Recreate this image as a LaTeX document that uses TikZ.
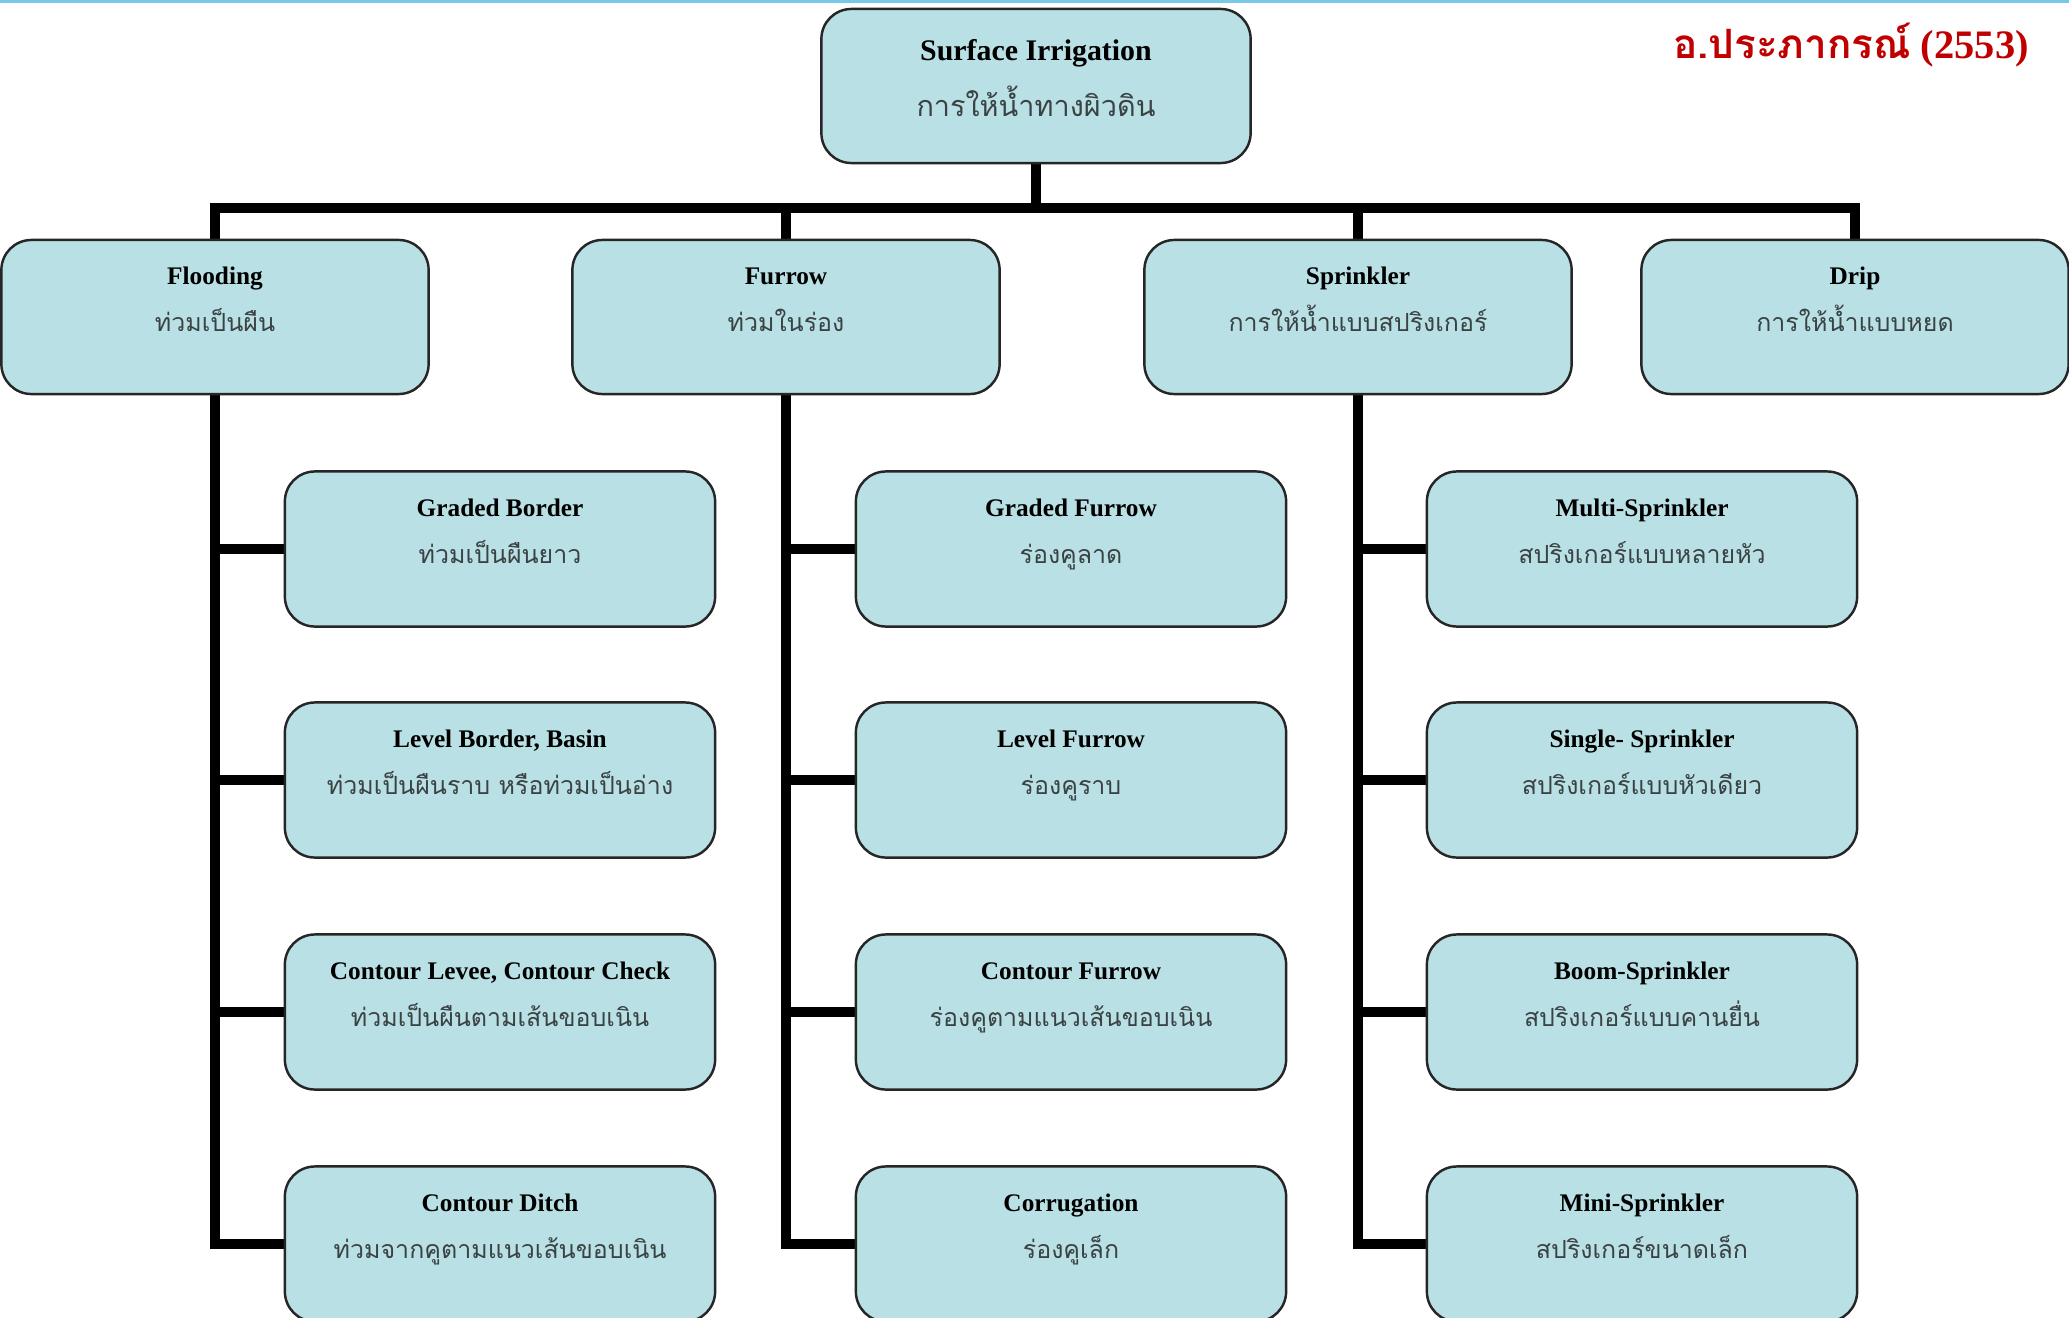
\documentclass[tikz,border=0pt]{standalone}
\usepackage{fontspec}
\setmainfont{Liberation Serif}
\newfontfamily\thaifont[Script=Thai]{Loma}
\pgfdeclarelayer{bg}
\pgfsetlayers{bg,main}
\definecolor{boxfill}{RGB}{185,224,228}
\definecolor{thaitext}{RGB}{58,66,68}
\definecolor{titlered}{RGB}{192,0,0}
\definecolor{topband}{RGB}{120,200,232}
\newcommand{\thaiword}[2]{{\thaifont\fontsize{#1}{#1}\selectfont\color{thaitext}#2}}
\tikzset{
    every node/.style={rounded corners=0.3cm, draw=black!85, line width=0.7pt, fill=boxfill, align=center, inner sep=0mm}
}
\tikzset{
    root/.style={minimum width=4.29cm, minimum height=1.54cm, font=\fontsize{8.5}{15.9}\selectfont},
    kind/.style={minimum width=4.27cm, minimum height=1.54cm, font=\fontsize{7.2}{13.4}\selectfont},
    sub/.style={minimum width=4.3cm, minimum height=1.55cm, font=\fontsize{7.2}{13.4}\selectfont},
    link/.style={line width=2.8pt, line join=miter}
}

\begin{document}
\begin{tikzpicture}[x=0.01cm, y=-0.01cm]
        \useasboundingbox (0,0) rectangle (2069,1318);
        \fill[topband] (0,0) rectangle (2069,3);
        \node (r) [root] at (1036,86) {\textbf{Surface Irrigation}\\\thaiword{8.2}{การให้น้ำทางผิวดิน}\rule[-4.5pt]{0pt}{0pt}};
        \node (f0) [kind] at (215,317) {\textbf{Flooding}\\\thaiword{7.1}{ท่วมเป็นผืน}\rule[-10pt]{0pt}{0pt}};
        \node (g0) [kind] at (786,317) {\textbf{Furrow}\\\thaiword{7.1}{ท่วมในร่อง}\rule[-10pt]{0pt}{0pt}};
        \node (s0) [kind] at (1358,317) {\textbf{Sprinkler}\\\thaiword{7.1}{การให้น้ำแบบสปริงเกอร์}\rule[-10pt]{0pt}{0pt}};
        \node (d0) [kind] at (1855,317) {\textbf{Drip}\\\thaiword{7.1}{การให้น้ำแบบหยด}\rule[-10pt]{0pt}{0pt}};
        \node (f1) [sub] at (500,549) {\textbf{Graded Border}\\\thaiword{7.1}{ท่วมเป็นผืนยาว}\rule[-10pt]{0pt}{0pt}};
        \node (f2) [sub] at (500,780) {\textbf{Level Border, Basin}\\\thaiword{7.1}{ท่วมเป็นผืนราบ หรือท่วมเป็นอ่าง}\rule[-10pt]{0pt}{0pt}};
        \node (f3) [sub] at (500,1012) {\textbf{Contour Levee, Contour Check}\\\thaiword{7.1}{ท่วมเป็นผืนตามเส้นขอบเนิน}\rule[-10pt]{0pt}{0pt}};
        \node (f4) [sub] at (500,1244) {\textbf{Contour Ditch}\\\thaiword{7.1}{ท่วมจากคูตามแนวเส้นขอบเนิน}\rule[-10pt]{0pt}{0pt}};
        \node (g1) [sub] at (1071,549) {\textbf{Graded Furrow}\\\thaiword{7.1}{ร่องคูลาด}\rule[-10pt]{0pt}{0pt}};
        \node (g2) [sub] at (1071,780) {\textbf{Level Furrow}\\\thaiword{7.1}{ร่องคูราบ}\rule[-10pt]{0pt}{0pt}};
        \node (g3) [sub] at (1071,1012) {\textbf{Contour Furrow}\\\thaiword{7.1}{ร่องคูตามแนวเส้นขอบเนิน}\rule[-10pt]{0pt}{0pt}};
        \node (g4) [sub] at (1071,1244) {\textbf{Corrugation}\\\thaiword{7.1}{ร่องคูเล็ก}\rule[-10pt]{0pt}{0pt}};
        \node (s1) [sub] at (1642,549) {\textbf{Multi-Sprinkler}\\\thaiword{7.1}{สปริงเกอร์แบบหลายหัว}\rule[-10pt]{0pt}{0pt}};
        \node (s2) [sub] at (1642,780) {\textbf{Single- Sprinkler}\\\thaiword{7.1}{สปริงเกอร์แบบหัวเดียว}\rule[-10pt]{0pt}{0pt}};
        \node (s3) [sub] at (1642,1012) {\textbf{Boom-Sprinkler}\\\thaiword{7.1}{สปริงเกอร์แบบคานยื่น}\rule[-10pt]{0pt}{0pt}};
        \node (s4) [sub] at (1642,1244) {\textbf{Mini-Sprinkler}\\\thaiword{7.1}{สปริงเกอร์ขนาดเล็ก}\rule[-10pt]{0pt}{0pt}};
        \node (author) [draw=none, fill=none, rounded corners=0pt, anchor=east, text=titlered, font=\fontsize{11.5}{11.5}\selectfont\bfseries] at (2030,45) {{\thaifont อ.ประภากรณ์} (2553)};
        \coordinate (bus) at (1036,208);
        \begin{pgfonlayer}{bg}
                \draw[link] (r.south) -- (bus);
                \draw[link] (f0.north) |- (bus) -| (d0.north);
                \draw[link] (g0.north) -- (g0 |- bus);
                \draw[link] (s0.north) -- (s0 |- bus);
                \draw[link] (f0.south) |- (f4.west);
                \draw[link] (f0 |- f1.west) -- (f1.west);
                \draw[link] (f0 |- f2.west) -- (f2.west);
                \draw[link] (f0 |- f3.west) -- (f3.west);
                \draw[link] (g0.south) |- (g4.west);
                \draw[link] (g0 |- g1.west) -- (g1.west);
                \draw[link] (g0 |- g2.west) -- (g2.west);
                \draw[link] (g0 |- g3.west) -- (g3.west);
                \draw[link] (s0.south) |- (s4.west);
                \draw[link] (s0 |- s1.west) -- (s1.west);
                \draw[link] (s0 |- s2.west) -- (s2.west);
                \draw[link] (s0 |- s3.west) -- (s3.west);
        \end{pgfonlayer}
\end{tikzpicture}
\end{document}
